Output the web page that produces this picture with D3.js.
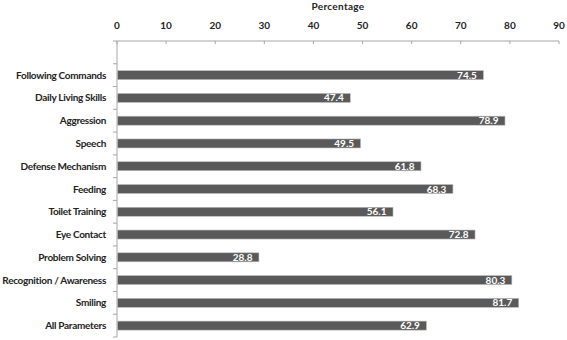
<!DOCTYPE html>
<html><head><meta charset="utf-8">
<script src="https://cdn.jsdelivr.net/npm/d3@7"></script>
<style>body{margin:0;background:#fff}svg{display:block}text{font-family:Lato,"Open Sans",sans-serif}</style>
</head><body>
<script>
const categories = ["Following Commands","Daily Living Skills","Aggression","Speech","Defense Mechanism","Feeding","Toilet Training","Eye Contact","Problem Solving","Recognition / Awareness","Smiling","All Parameters"];
const values = [74.5,47.4,78.9,49.5,61.8,68.3,56.1,72.8,28.8,80.3,81.7,62.9];
const xTicks = [0,10,20,30,40,50,60,70,80,90];
const axisTitle = "Percentage";

const W=567,H=340;
const svg=d3.select("body").append("svg").attr("width",W).attr("height",H);
const x=d3.scaleLinear().domain([0,90]).range([117,559]);
const y=d3.scaleBand().domain([""].concat(categories)).range([41,337]).paddingInner(0).paddingOuter(0);
const barH=9;

// x axis (top)
const gx=svg.append("g").attr("transform","translate(0,41)");
gx.append("line").attr("x1",x(0)).attr("x2",x(90)).attr("stroke","#a6a6a6");
gx.selectAll(".t").data(xTicks).join("line").attr("x1",d=>x(d)).attr("x2",d=>x(d)).attr("y1",0).attr("y2",3).attr("stroke","#a6a6a6");
gx.selectAll(".l").data(xTicks).join("text").attr("x",d=>x(d)).attr("y",-12).attr("text-anchor","middle")
  .attr("font-size",10).attr("font-weight","bold").attr("fill","#222").text(d=>d);
svg.append("text").attr("x",(x(0)+x(90))/2).attr("y",10).attr("text-anchor","middle").attr("font-size",10).attr("font-weight","bold").attr("fill","#222").attr("letter-spacing",0.3).text(axisTitle);

// y axis
svg.append("line").attr("x1",x(0)).attr("x2",x(0)).attr("y1",41).attr("y2",337).attr("stroke","#a6a6a6");
const bounds=y.domain().map(d=>y(d)).concat([y.range()[1]]);
svg.selectAll(".yt").data(bounds).join("line").attr("x1",x(0)-4).attr("x2",x(0)).attr("y1",d=>d).attr("y2",d=>d).attr("stroke","#a6a6a6");
svg.selectAll(".yl").data(categories).join("text").attr("x",106).attr("y",d=>y(d)+y.bandwidth()/2).attr("dy","0.35em")
  .attr("text-anchor","end").attr("font-size",10).attr("font-weight","bold").attr("letter-spacing",-0.3).attr("fill","#222").text(d=>d);

// bars
const data=categories.map((c,i)=>({c,v:values[i]}));
svg.selectAll(".bar").data(data).join("rect").attr("x",x(0)+0.5).attr("y",d=>y(d.c)+y.bandwidth()/2-barH/2)
  .attr("width",d=>x(d.v)-x(0)).attr("height",barH).attr("fill","#5a5a5a").attr("stroke","#bdbdbd").attr("stroke-width",0.6);
svg.selectAll(".val").data(data).join("text").attr("x",d=>x(d.v)-6).attr("y",d=>y(d.c)+y.bandwidth()/2).attr("dy","0.35em")
  .attr("text-anchor","end").attr("font-size",10).attr("font-weight","bold").attr("fill","#fff").text(d=>d.v.toFixed(1));
</script>
</body></html>
